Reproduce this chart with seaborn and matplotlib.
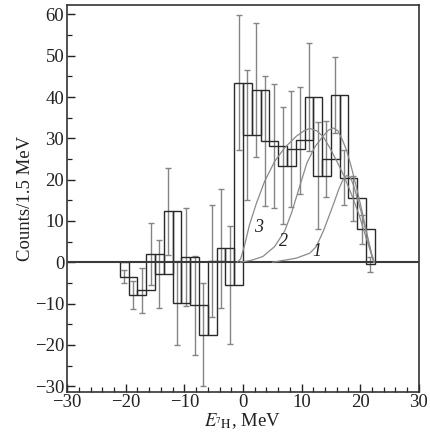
import numpy as np
import pandas as pd
import seaborn as sns
import matplotlib
matplotlib.use("Agg")
import matplotlib.pyplot as plt
from matplotlib.ticker import MultipleLocator, FuncFormatter

# ---- data ----
bin_centers = [-20.25, -18.75, -17.25, -15.75, -14.25, -12.75, -11.25, -9.75, -8.25,
               -6.75, -5.25, -3.75, -2.25, -0.75, 0.75, 2.25, 3.75, 5.25, 6.75, 8.25,
               9.75, 11.25, 12.75, 14.25, 15.75, 17.25, 18.75, 20.25, 21.75]
counts = [-3.5, -8.0, -6.8, 2.0, -2.8, 12.3, -9.8, 1.3, -10.4,
          -17.5, 0.3, 3.4, -5.5, 43.5, 30.8, 41.8, 29.3, 28.2, 23.4, 27.5,
          29.5, 40.0, 21.0, 25.0, 40.5, 20.5, 15.5, 8.0, -0.5]
errors = [1.6, 3.4, 5.4, 7.5, 8.3, 10.5, 10.2, 11.9, 12.0,
          12.4, 13.6, 14.4, 14.2, 16.3, 15.8, 16.2, 15.7, 15.0, 14.2, 14.0,
          13.0, 13.0, 13.0, 9.2, 9.3, 6.7, 5.5, 3.5, 1.8]
bin_width = 1.5

curve1_x = [5.0, 9.1, 11.4, 12.5, 13.7, 14.5, 15.5, 16.3, 17.0, 17.7, 18.3, 18.9, 19.6, 20.3, 21.0, 21.7, 22.3]
curve1_y = [0.0, 1.0, 2.2, 3.8, 7.5, 10.5, 14.3, 17.5, 19.8, 21.0, 20.6, 18.5, 15.0, 11.5, 7.5, 3.5, 0.0]
curve2_x = [-0.5, 1.5, 3.4, 5.4, 7.1, 8.3, 9.7, 10.9, 12.3, 13.7, 14.6, 15.4, 16.2, 17.0, 17.7, 18.5, 19.3, 20.3, 21.2, 22.0, 22.4]
curve2_y = [0.0, 0.5, 1.4, 3.8, 7.5, 12.0, 18.5, 24.0, 28.0, 30.6, 32.0, 32.5, 31.8, 29.5, 27.0, 23.0, 18.5, 12.5, 6.5, 1.5, 0.0]
curve3_x = [-1.0, -0.4, 0.3, 1.1, 2.3, 3.7, 5.4, 7.1, 9.1, 10.4, 11.4, 12.6, 13.7, 14.9, 16.0, 17.2, 18.5, 19.8, 21.0, 22.0, 22.4]
curve3_y = [0.0, 0.8, 4.2, 9.0, 14.3, 19.6, 24.4, 27.7, 30.5, 31.8, 32.4, 31.8, 30.4, 27.5, 24.5, 21.0, 16.5, 11.5, 6.0, 1.5, 0.0]

curve_labels = ["1", "2", "3"]
label_pos = [(12.6, 2.6), (6.9, 5.0), (2.6, 8.4)]

x_ticks = [-30, -20, -10, 0, 10, 20, 30]
y_ticks = [-30, -20, -10, 0, 10, 20, 30, 40, 50, 60]

# ---- style ----
sns.set_style("ticks")
plt.rcParams["font.family"] = ["Liberation Serif", "DejaVu Serif"]
plt.rcParams["mathtext.fontset"] = "stix"
plt.rcParams["axes.unicode_minus"] = True

fig = plt.figure(figsize=(4.30, 4.43), dpi=100)
ax = fig.add_axes([0.156, 0.116, 0.818, 0.873])

# error bars
ax.errorbar(bin_centers, counts, yerr=errors, fmt="none", ecolor="#858585",
            elinewidth=1.0, capsize=2.2, capthick=1.0, zorder=2)

# histogram boxes: each bin spans between the previous bin's value and its own value
prev = [0.0] + counts[:-1]
heights = [c - p for c, p in zip(counts, prev)]
ax.bar(bin_centers, heights, bottom=prev, width=bin_width, fill=False,
       edgecolor="#2a2a2a", linewidth=1.0, zorder=3)

# model curves
for cx, cy in [(curve1_x, curve1_y), (curve2_x, curve2_y), (curve3_x, curve3_y)]:
    df = pd.DataFrame({"x": cx, "y": cy})
    sns.lineplot(data=df, x="x", y="y", sort=False, color="#8a8a8a", linewidth=0.9,
                 ax=ax, zorder=4)

for lab, (lx, ly) in zip(curve_labels, label_pos):
    ax.text(lx, ly, lab, fontsize=13, style="italic", color="#222222",
            ha="center", va="center", zorder=5)

ax.axhline(0, color="#3a3a3a", linewidth=1.5, zorder=3)

ax.set_xlim(-30, 30)
ax.set_ylim(-31.3, 62.3)
ax.set_xticks(x_ticks)
ax.set_yticks(y_ticks)
ax.xaxis.set_minor_locator(MultipleLocator(2))
ax.yaxis.set_minor_locator(MultipleLocator(5))
fmt = FuncFormatter(lambda v, p: f"{int(v)}".replace("-", "\u2212"))
ax.xaxis.set_major_formatter(fmt)
ax.yaxis.set_major_formatter(fmt)
ax.tick_params(which="both", direction="in", colors="#222222", labelsize=13.5,
               top=False, right=False)
ax.tick_params(which="major", length=6, width=1.0)
ax.tick_params(which="minor", length=3.5, width=0.9)
ax.tick_params(axis="x", pad=2)
ax.tick_params(axis="y", pad=2)
for s in ax.spines.values():
    s.set_color("#333333")
    s.set_linewidth(1.2)

ax.set_xlabel(r"$E_{{}^{7}\mathrm{H}}$, MeV", fontsize=13.5, labelpad=0, color="#222222")
ax.set_ylabel("Counts/1.5 MeV", fontsize=13.5, labelpad=1, color="#222222")

fig.savefig("out.png", dpi=100)
